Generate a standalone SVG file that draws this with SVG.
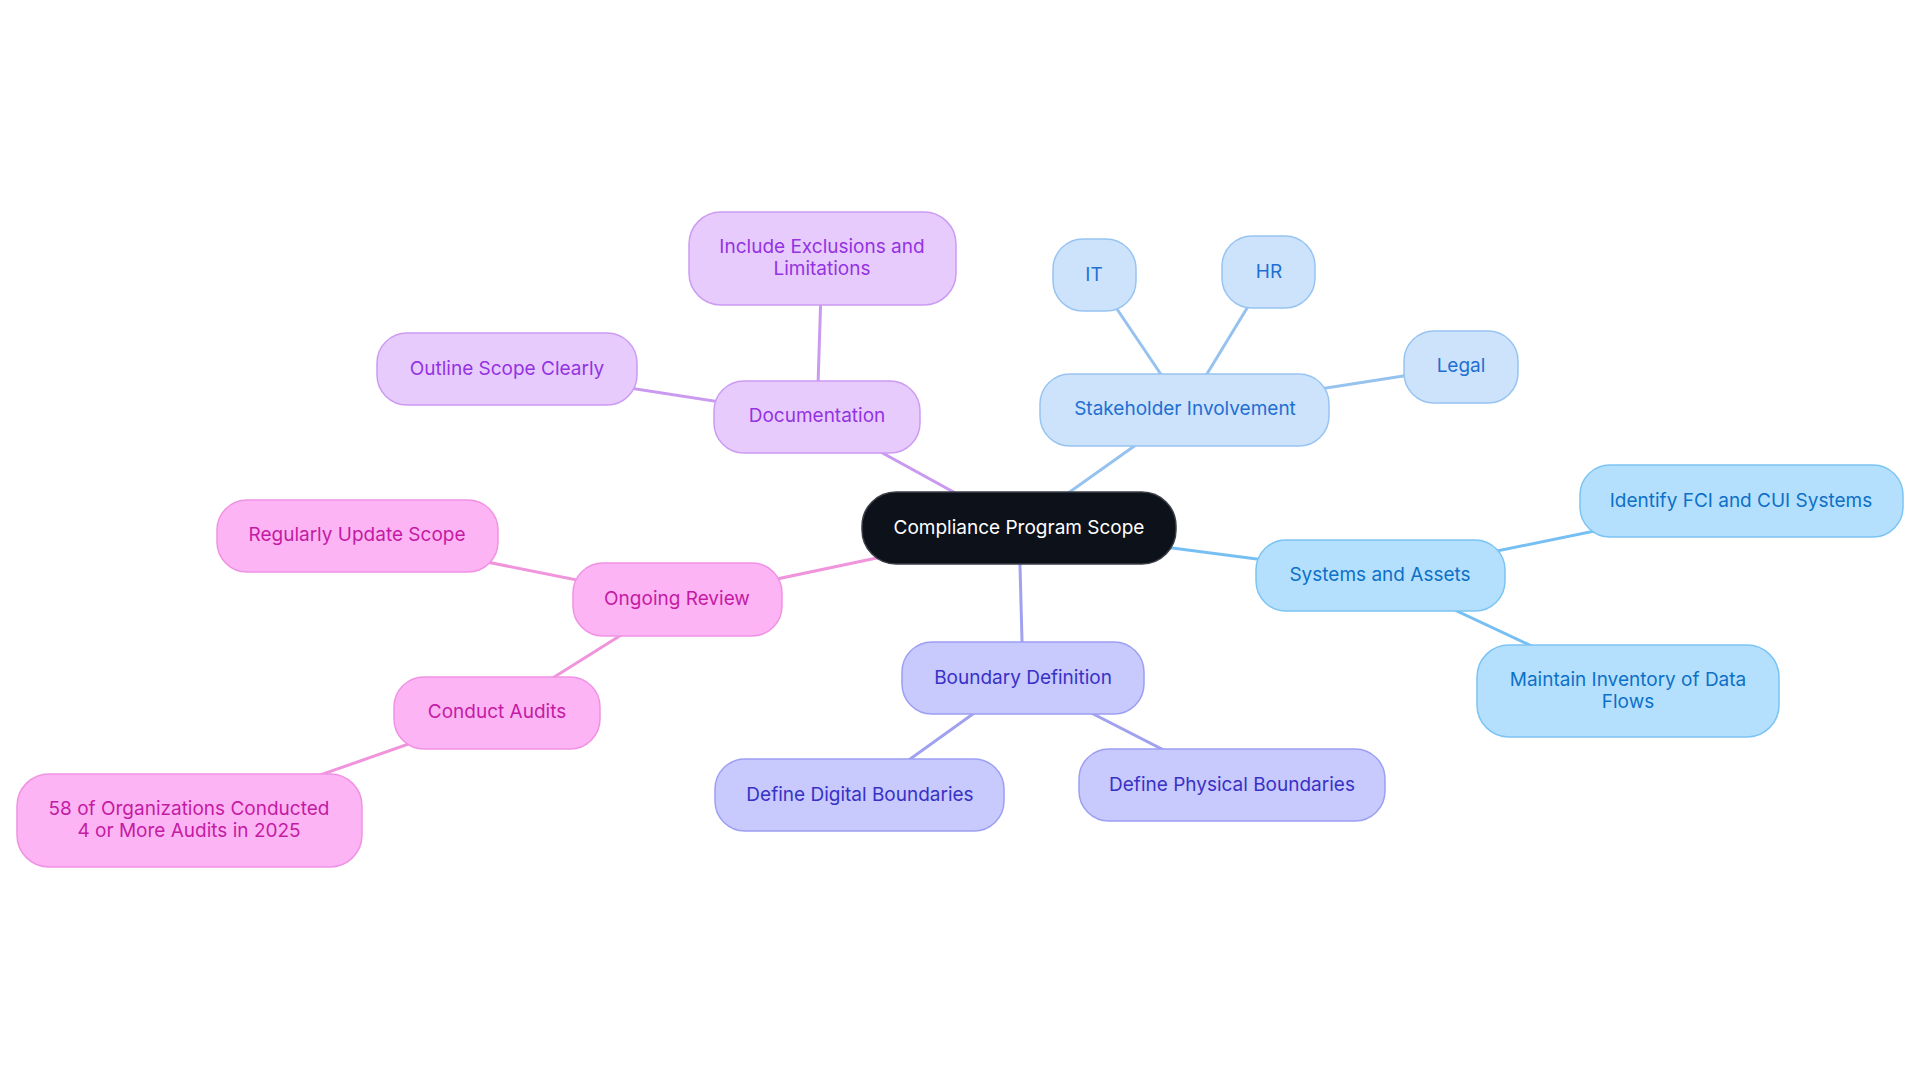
<svg xmlns="http://www.w3.org/2000/svg" width="1920" height="1083" viewBox="0 0 1920 1083">
<style>
text{font-family:Inter,"Noto Sans","Liberation Sans",sans-serif;font-size:19px;text-anchor:middle;dominant-baseline:central}
.c rect{fill:#0c111a;stroke:#3b4048;stroke-width:1.5}
.c text{fill:#ffffff}
.p rect{fill:#e8cbfd;stroke:#cc9bf2;stroke-width:1.5}
.p text{fill:#9333e2}
.s rect{fill:#cce3fb;stroke:#98c4f2;stroke-width:1.5}
.s text{fill:#1f6fd3}
.a rect{fill:#b4e0fe;stroke:#7cc4f4;stroke-width:1.5}
.a text{fill:#0e70c6}
.b rect{fill:#c8c9fd;stroke:#9d9ff2;stroke-width:1.5}
.b text{fill:#3831c6}
.k rect{fill:#fdb4f4;stroke:#f092e4;stroke-width:1.5}
.k text{fill:#c41ba4}
#edges line{stroke-width:3;fill:none}
.lp{stroke:#c99af0}.ls{stroke:#96c2f0}.la{stroke:#76bff2}.lb{stroke:#a0a2f0}.lk{stroke:#f094dc}
</style>
<rect width="1920" height="1083" fill="#ffffff"/>
<g id="edges">
<line class="lp" x1="1019" y1="528" x2="817" y2="417"/>
<line class="lp" x1="817" y1="417" x2="822" y2="259"/>
<line class="lp" x1="817" y1="417" x2="507" y2="369"/>
<line class="ls" x1="1019" y1="528" x2="1185" y2="410"/>
<line class="ls" x1="1185" y1="410" x2="1094" y2="275"/>
<line class="ls" x1="1185" y1="410" x2="1269" y2="272"/>
<line class="ls" x1="1185" y1="410" x2="1461" y2="367"/>
<line class="la" x1="1019" y1="528" x2="1380" y2="575"/>
<line class="la" x1="1380" y1="575" x2="1741" y2="501"/>
<line class="la" x1="1380" y1="575" x2="1628" y2="691"/>
<line class="lb" x1="1019" y1="528" x2="1023" y2="678"/>
<line class="lb" x1="1023" y1="678" x2="860" y2="795"/>
<line class="lb" x1="1023" y1="678" x2="1232" y2="785"/>
<line class="lk" x1="1019" y1="528" x2="677" y2="600"/>
<line class="lk" x1="677" y1="600" x2="357" y2="536"/>
<line class="lk" x1="677" y1="600" x2="497" y2="713"/>
<line class="lk" x1="497" y1="713" x2="189" y2="821"/>
</g>
<g id="n-root" class="c"><rect x="862" y="492" width="314" height="72" rx="34"/><text x="1019" y="527">Compliance Program Scope</text></g>
<g id="n-doc" class="p"><rect x="714" y="381" width="206" height="72" rx="30"/><text x="817" y="415.5">Documentation</text></g>
<g id="n-excl" class="p"><rect x="689" y="212" width="267" height="93" rx="32"/><text x="822" y="246">Include Exclusions and</text><text x="822" y="268">Limitations</text></g>
<g id="n-outline" class="p"><rect x="377" y="333" width="260" height="72" rx="30"/><text x="507" y="368">Outline Scope Clearly</text></g>
<g id="n-stake" class="s"><rect x="1040" y="374" width="289" height="72" rx="30"/><text x="1185" y="408.5">Stakeholder Involvement</text></g>
<g id="n-it" class="s"><rect x="1053" y="239" width="83" height="72" rx="30"/><text x="1094" y="274">IT</text></g>
<g id="n-hr" class="s"><rect x="1222" y="236" width="93" height="72" rx="30"/><text x="1269" y="271">HR</text></g>
<g id="n-legal" class="s"><rect x="1404" y="331" width="114" height="72" rx="30"/><text x="1461" y="365.5">Legal</text></g>
<g id="n-sys" class="a"><rect x="1256" y="540" width="249" height="71" rx="30"/><text x="1380" y="574">Systems and Assets</text></g>
<g id="n-fci" class="a"><rect x="1580" y="465" width="323" height="72" rx="30"/><text x="1741" y="500">Identify FCI and CUI Systems</text></g>
<g id="n-inv" class="a"><rect x="1477" y="645" width="302" height="92" rx="32"/><text x="1628" y="679">Maintain Inventory of Data</text><text x="1628" y="701">Flows</text></g>
<g id="n-bound" class="b"><rect x="902" y="642" width="242" height="72" rx="30"/><text x="1023" y="677">Boundary Definition</text></g>
<g id="n-digital" class="b"><rect x="715" y="759" width="289" height="72" rx="30"/><text x="860" y="794">Define Digital Boundaries</text></g>
<g id="n-physical" class="b"><rect x="1079" y="749" width="306" height="72" rx="30"/><text x="1232" y="784">Define Physical Boundaries</text></g>
<g id="n-review" class="k"><rect x="573" y="563" width="209" height="73" rx="30"/><text x="677" y="598">Ongoing Review</text></g>
<g id="n-update" class="k"><rect x="217" y="500" width="281" height="72" rx="30"/><text x="357" y="534.5">Regularly Update Scope</text></g>
<g id="n-audits" class="k"><rect x="394" y="677" width="206" height="72" rx="30"/><text x="497" y="711.5">Conduct Audits</text></g>
<g id="n-58" class="k"><rect x="17" y="774" width="345" height="93" rx="32"/><text x="189" y="808">58 of Organizations Conducted</text><text x="189" y="830">4 or More Audits in 2025</text></g>
</svg>
